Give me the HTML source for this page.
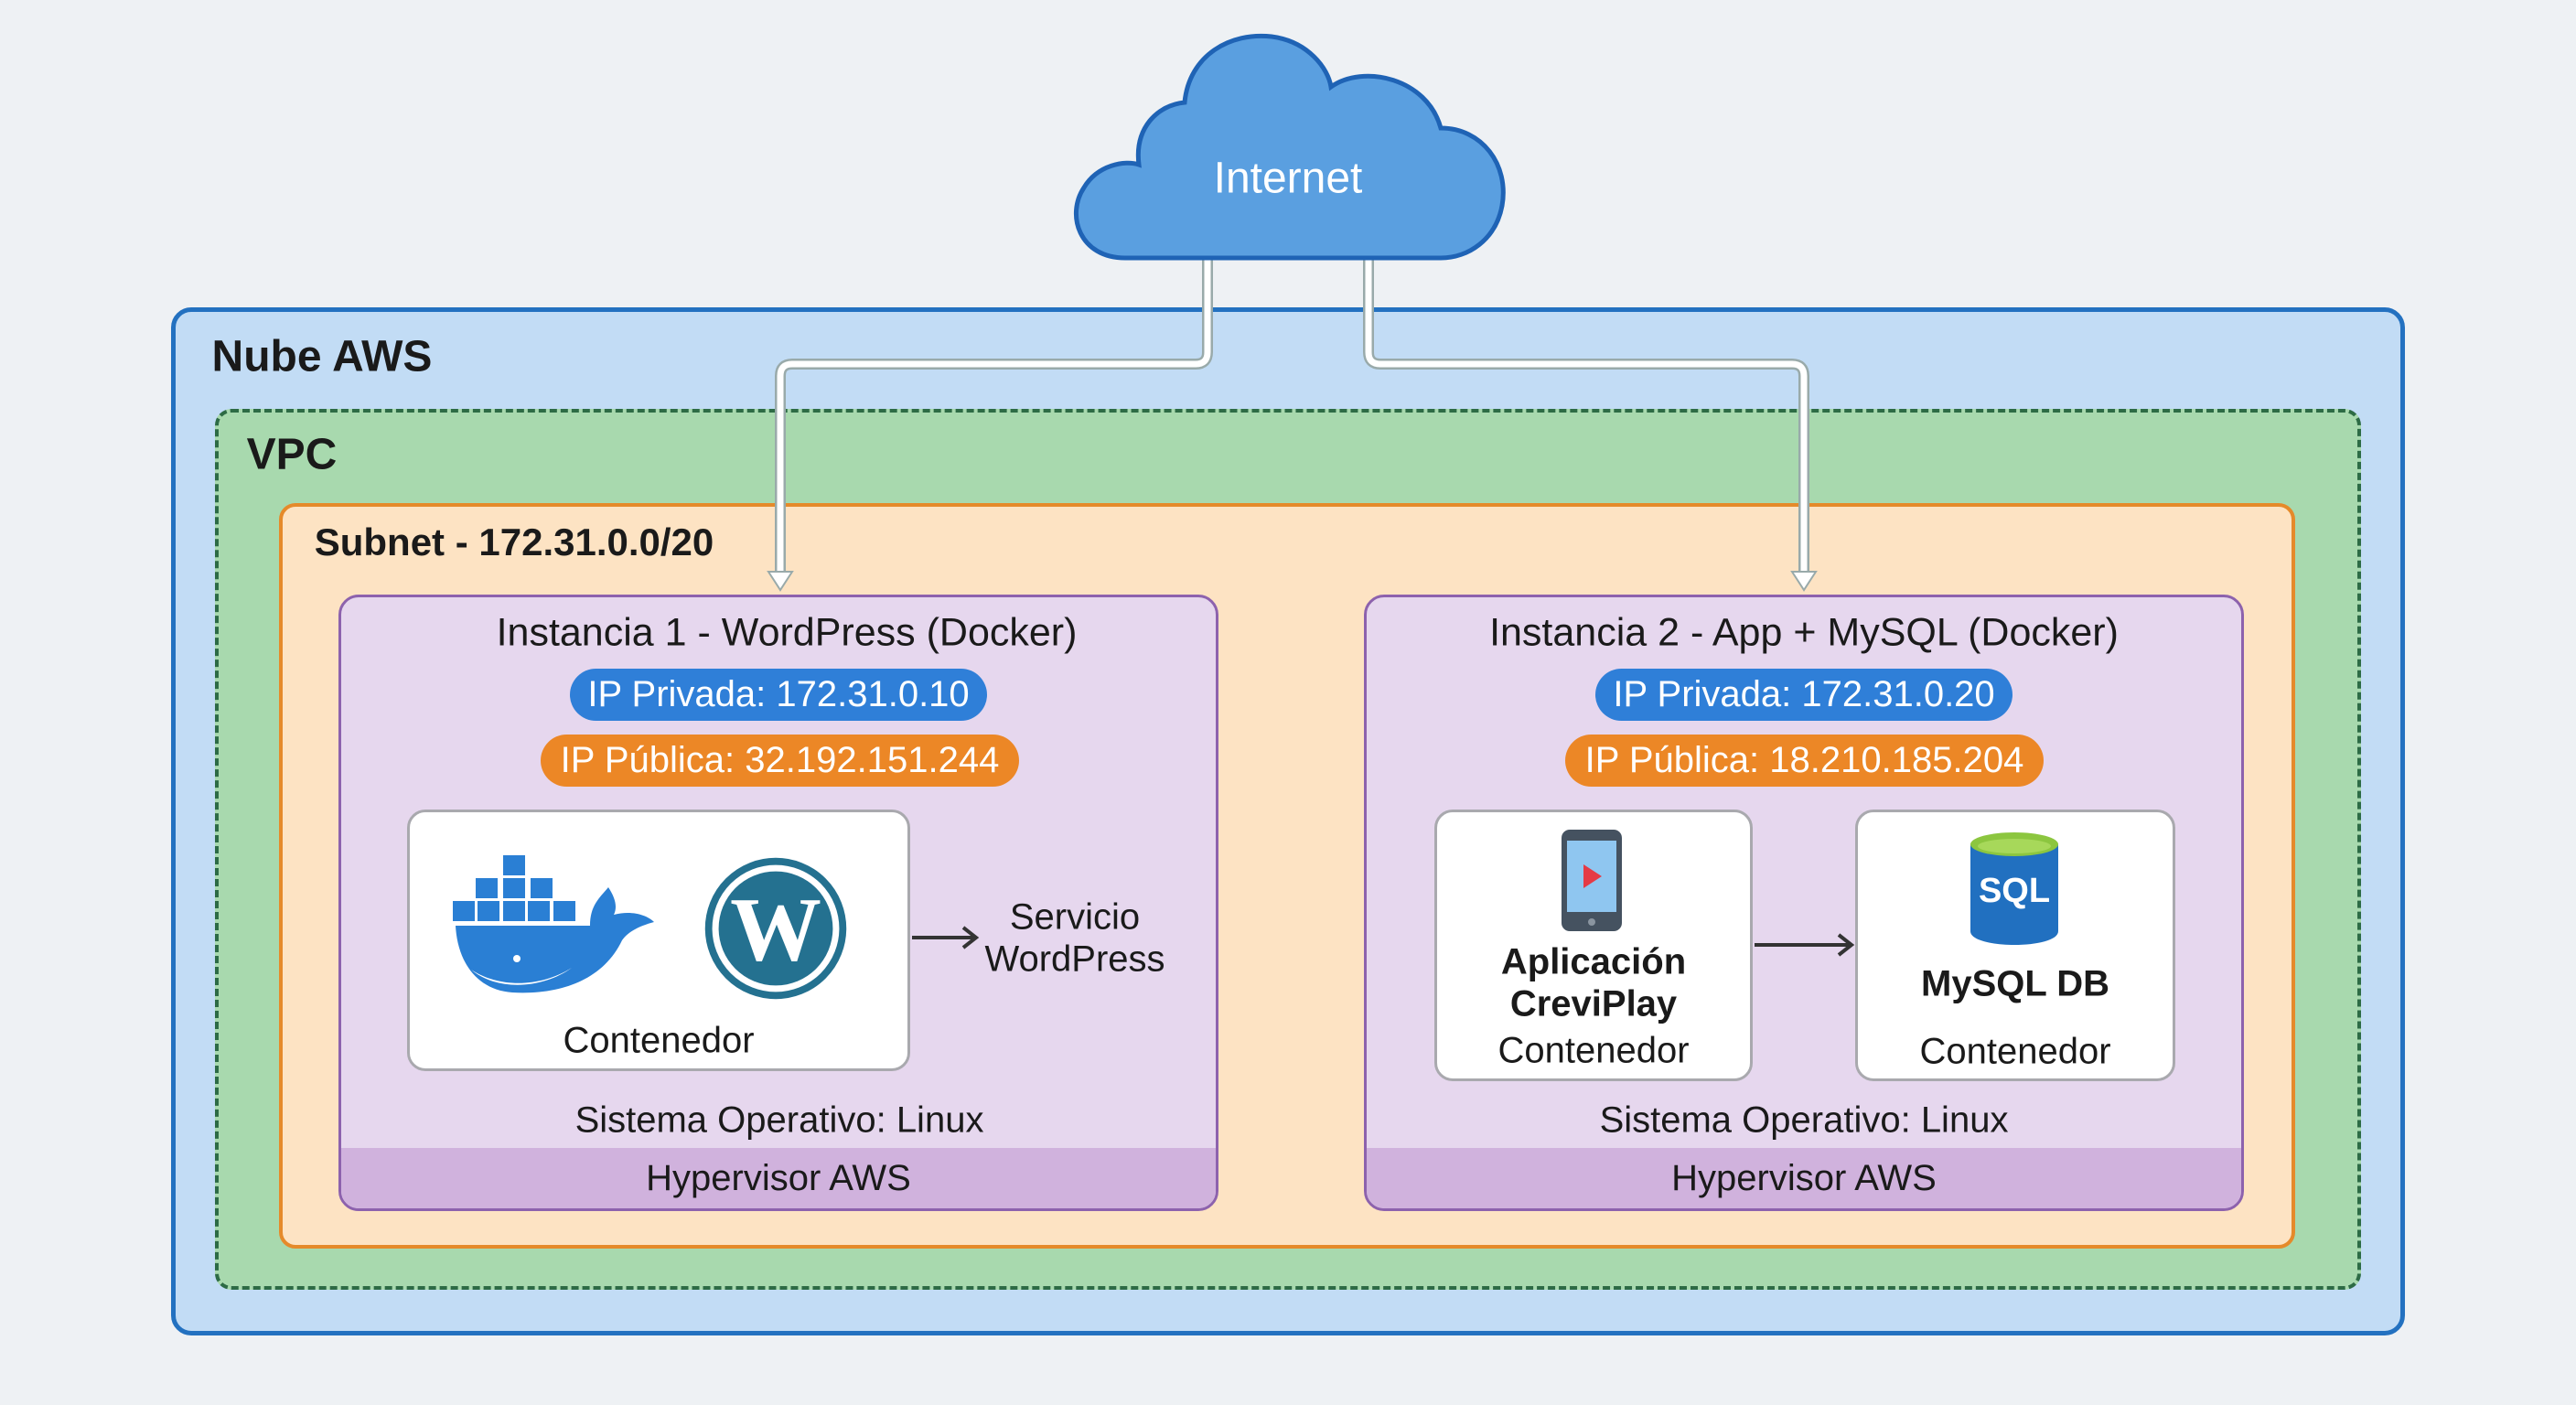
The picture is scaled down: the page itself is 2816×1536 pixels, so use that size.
<!DOCTYPE html>
<html><head><meta charset="utf-8"><style>
*{margin:0;padding:0;box-sizing:border-box}
body{width:2816px;height:1536px;background:#eef1f4;position:relative;overflow:hidden;font-family:"Liberation Sans",sans-serif;color:#1a1a1a}
.a{position:absolute}
.t{position:absolute;white-space:nowrap;transform:translate(-50%,-50%)}
.pill{position:absolute;border-radius:30px;color:#fff;font-size:40px;display:flex;align-items:center;justify-content:center}
.inst{position:absolute;top:650px;width:962px;height:674px;background:#e6d7ee;border:3px solid #8d62ad;border-radius:22px;overflow:hidden}
.hyp{position:absolute;left:0;right:0;bottom:0;height:66px;background:#d0b2dd;font-size:40px;display:flex;align-items:center;justify-content:center}
.box{position:absolute;background:#fff;border:3px solid #a9a9ae;border-radius:20px}
</style></head><body>
<div class="a" style="left:187px;top:336px;width:2442px;height:1124px;background:#c2dcf5;border:5px solid #2371c0;border-radius:22px"></div>
<div class="t" style="left:352px;top:390px;font-size:48px;font-weight:bold">Nube AWS</div>
<div class="a" style="left:235px;top:447px;width:2346px;height:963px;background:#a8d9ae;border:4px dashed #2d6b45;border-radius:18px"></div>
<div class="t" style="left:319px;top:497px;font-size:48px;font-weight:bold">VPC</div>
<div class="a" style="left:305px;top:550px;width:2204px;height:815px;background:#fde3c3;border:4px solid #e58a2a;border-radius:18px"></div>
<div class="t" style="left:562px;top:593px;font-size:42px;font-weight:bold">Subnet - 172.31.0.0/20</div>

<div class="inst" style="left:370px">
 <div class="hyp">Hypervisor AWS</div>
</div>
<div class="t" style="left:860px;top:692px;font-size:43px">Instancia 1 - WordPress (Docker)</div>
<div class="pill" style="left:623px;top:731px;width:456px;height:57px;background:#2f7fd8">IP Privada: 172.31.0.10</div>
<div class="pill" style="left:591px;top:803px;width:523px;height:57px;background:#ec8726">IP Pública: 32.192.151.244</div>
<div class="box" style="left:445px;top:885px;width:550px;height:286px"></div>
<svg class="a" style="left:495px;top:930px" width="230" height="160" viewBox="0 0 230 160">
 <g fill="#2a7fd4">
  <rect x="55" y="5" width="24" height="22"/>
  <rect x="25" y="30" width="24" height="22"/><rect x="55" y="30" width="24" height="22"/><rect x="85" y="30" width="24" height="22"/>
  <rect x="0" y="55" width="24" height="22"/><rect x="27" y="55" width="24" height="22"/><rect x="55" y="55" width="24" height="22"/><rect x="82" y="55" width="24" height="22"/><rect x="110" y="55" width="24" height="22"/>
  <path d="M3 82 H150 C150 60 160 52 170 40 C178 52 180 62 176 70 C195 65 212 70 220 78 C205 82 192 88 185 98 C165 140 120 158 65 155 C25 152 5 120 3 82Z"/>
 </g>
 <path d="M20 130 C50 150 95 150 130 128 C100 150 50 155 20 130Z" fill="#fff"/>
 <circle cx="70" cy="118" r="4" fill="#fff"/>
</svg>
<svg class="a" style="left:770px;top:937px" width="156" height="156" viewBox="0 0 100 100">
 <circle cx="50" cy="50" r="47" fill="none" stroke="#247190" stroke-width="5"/>
 <circle cx="50" cy="50" r="40" fill="#247190"/>
 <text x="50" y="72" font-family="Liberation Serif,serif" font-size="64" fill="#fff" text-anchor="middle" font-weight="bold">W</text>
</svg>
<div class="t" style="left:720px;top:1138px;font-size:40px">Contenedor</div>
<svg class="a" style="left:995px;top:1010px" width="80" height="30"><path d="M2 15 H70 M58 4 L72 15 L58 26" stroke="#333" stroke-width="4" fill="none"/></svg>
<div class="t" style="left:1175px;top:1003px;font-size:40px">Servicio</div>
<div class="t" style="left:1175px;top:1049px;font-size:40px">WordPress</div>
<div class="t" style="left:852px;top:1225px;font-size:40px">Sistema Operativo: Linux</div>

<div class="inst" style="left:1491px">
 <div class="hyp">Hypervisor AWS</div>
</div>
<div class="t" style="left:1972px;top:692px;font-size:43px">Instancia 2 - App + MySQL (Docker)</div>
<div class="pill" style="left:1744px;top:731px;width:456px;height:57px;background:#2f7fd8">IP Privada: 172.31.0.20</div>
<div class="pill" style="left:1711px;top:803px;width:523px;height:57px;background:#ec8726">IP Pública: 18.210.185.204</div>
<div class="box" style="left:1568px;top:885px;width:348px;height:297px"></div>
<div class="box" style="left:2028px;top:885px;width:350px;height:297px"></div>
<svg class="a" style="left:1705px;top:905px" width="70" height="115" viewBox="0 0 70 115">
 <rect x="2" y="2" width="66" height="111" rx="9" fill="#455260"/>
 <rect x="8" y="14" width="54" height="78" fill="#8fc6f0"/>
 <path d="M26 40 L46 53 L26 66Z" fill="#e53a45"/>
 <circle cx="35" cy="103" r="4" fill="#8a95a0"/>
</svg>
<svg class="a" style="left:2152px;top:908px" width="100" height="130" viewBox="0 0 100 130">
 <path d="M2 15 V110 C2 130 98 130 98 110 V15Z" fill="#2170c0"/>
 <ellipse cx="50" cy="15" rx="48" ry="13" fill="#8cc63f"/>
 <ellipse cx="50" cy="17" rx="40" ry="8" fill="#a7d85a"/>
 <text x="50" y="78" font-family="Liberation Sans,sans-serif" font-weight="bold" font-size="38" fill="#fff" text-anchor="middle">SQL</text>
</svg>
<div class="t" style="left:1742px;top:1052px;font-size:40px;font-weight:bold">Aplicación</div>
<div class="t" style="left:1742px;top:1098px;font-size:40px;font-weight:bold">CreviPlay</div>
<div class="t" style="left:1742px;top:1149px;font-size:40px">Contenedor</div>
<div class="t" style="left:2203px;top:1076px;font-size:40px;font-weight:bold">MySQL DB</div>
<div class="t" style="left:2203px;top:1150px;font-size:40px">Contenedor</div>
<svg class="a" style="left:1916px;top:1018px" width="115" height="30"><path d="M2 15 H106 M94 4 L108 15 L94 26" stroke="#333" stroke-width="4" fill="none"/></svg>
<div class="t" style="left:1972px;top:1225px;font-size:40px">Sistema Operativo: Linux</div>

<svg class="a" style="left:0;top:0" width="2816" height="1536">
 <g fill="none" stroke-linejoin="round">
  <path d="M1320 280 V385 Q1320 398 1307 398 H866 Q853 398 853 411 V632" stroke="#9aa" stroke-width="12"/>
  <path d="M1496 280 V385 Q1496 398 1509 398 H1959 Q1972 398 1972 411 V632" stroke="#9aa" stroke-width="12"/>
  <path d="M1320 280 V385 Q1320 398 1307 398 H866 Q853 398 853 411 V632" stroke="#fff" stroke-width="7"/>
  <path d="M1496 280 V385 Q1496 398 1509 398 H1959 Q1972 398 1972 411 V632" stroke="#fff" stroke-width="7"/>
 </g>
 <path d="M840 625 L866 625 L853 645Z" fill="#fff" stroke="#9aa" stroke-width="2"/>
 <path d="M1959 625 L1985 625 L1972 645Z" fill="#fff" stroke="#9aa" stroke-width="2"/>
 <path d="M1230 282 C1180 282 1165 235 1185 205 C1200 180 1230 175 1245 180 C1240 140 1265 115 1295 112 C1300 60 1345 35 1390 40 C1430 45 1452 75 1455 95 C1490 70 1560 85 1575 140 C1620 140 1650 180 1642 225 C1635 262 1605 282 1575 282Z" fill="#5a9fe0" stroke="#1f63b5" stroke-width="5"/>
</svg>
<div class="t" style="left:1408px;top:195px;font-size:48px;color:#fff">Internet</div>
</body></html>
